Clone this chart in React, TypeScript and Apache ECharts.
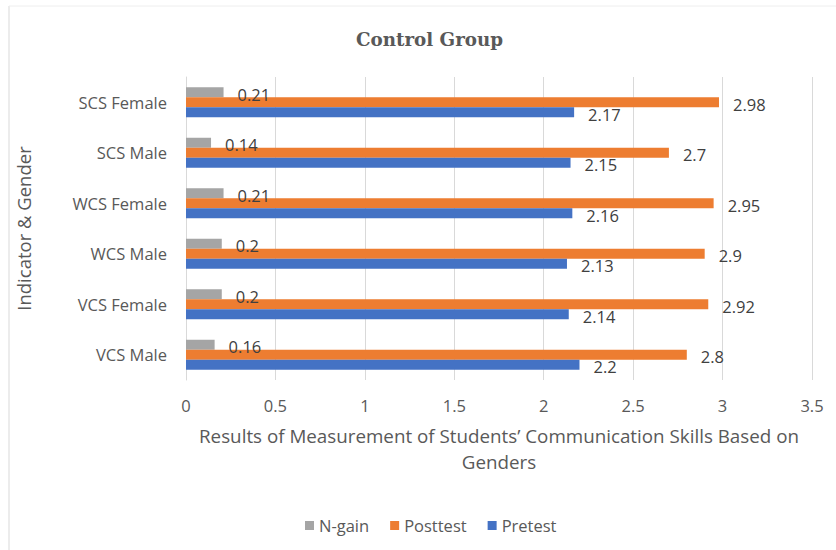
import React, { useEffect, useRef } from "react";
import * as echarts from "echarts";

const categories = ["VCS Male", "VCS Female", "WCS Male", "WCS Female", "SCS Male", "SCS Female"];
const pretest = [2.2, 2.14, 2.13, 2.16, 2.15, 2.17];
const posttest = [2.8, 2.92, 2.9, 2.95, 2.7, 2.98];
const ngain = [0.16, 0.2, 0.2, 0.21, 0.14, 0.21];
const xTicks = { min: 0, max: 3.5, interval: 0.5 };

const FONT = "'Open Sans', 'Noto Sans', sans-serif";
const TXT = "#595959";

export default function App() {
  const ref = useRef<HTMLDivElement>(null);
  useEffect(() => {
    document.body.style.margin = "0";
    const chart = echarts.init(ref.current!, null, { renderer: "svg" });
    const label = {
      show: true,
      position: "right" as const,
      distance: 14,
      offset: [0, 2],
      color: "#404040",
      fontSize: 16.5,
      fontFamily: FONT,
    };
    chart.setOption({
      animation: false,
      backgroundColor: "#ffffff",
      title: {
        text: "Control Group",
        left: 351,
        top: 25,
        textStyle: { fontFamily: "'DejaVu Serif', serif", fontWeight: "bold", fontSize: 18.3, color: TXT },
      },
      legend: {
        data: ["N-gain", "Posttest", "Pretest"],
        left: 300,
        top: 512,
        itemWidth: 9,
        itemHeight: 9,
        itemGap: 21,
        icon: "rect",
        textStyle: { fontFamily: FONT, fontSize: 16.5, color: TXT },
      },
      grid: { left: 186, right: 24, top: 77, bottom: 170 },
      xAxis: {
        type: "value",
        min: xTicks.min,
        max: xTicks.max,
        interval: xTicks.interval,
        axisLine: { show: false },
        axisTick: { show: false },
        splitLine: { lineStyle: { color: "#d9d9d9" } },
        axisLabel: { color: TXT, fontSize: 16.5, fontFamily: FONT, margin: 17 },
        name: "Results of Measurement of Students\u2019 Communication Skills Based on\nGenders",
        nameLocation: "middle",
        nameGap: 43,
        nameTextStyle: { color: TXT, fontSize: 18.8, fontFamily: FONT, lineHeight: 26 },
      },
      yAxis: {
        type: "category",
        data: categories,
        axisLine: { lineStyle: { color: "#d9d9d9" } },
        axisTick: { show: false },
        axisLabel: { color: TXT, fontSize: 16.5, fontFamily: FONT, margin: 19 },
        name: "Indicator & Gender",
        nameLocation: "middle",
        nameGap: 153,
        nameTextStyle: { color: TXT, fontSize: 18.5, fontFamily: FONT },
      },
      graphic: [
        { type: "line", shape: { x1: 9, y1: 6, x2: 9, y2: 550 }, style: { stroke: "#e6e6e6", lineWidth: 1.5 } },
        { type: "line", shape: { x1: 9, y1: 6, x2: 836, y2: 6 }, style: { stroke: "#eeeeee", lineWidth: 1 } },
      ],
      series: [
        { name: "N-gain", type: "bar", data: ngain, barWidth: 10, barGap: "0%", itemStyle: { color: "#a5a5a5" }, label },
        { name: "Posttest", type: "bar", data: posttest, barWidth: 10, barGap: "0%", itemStyle: { color: "#ed7d31" }, label },
        { name: "Pretest", type: "bar", data: pretest, barWidth: 10, barGap: "0%", itemStyle: { color: "#4472c4" }, label },
      ],
    });
    return () => chart.dispose();
  }, []);
  return <div ref={ref} style={{ width: 836, height: 550 }} />;
}
